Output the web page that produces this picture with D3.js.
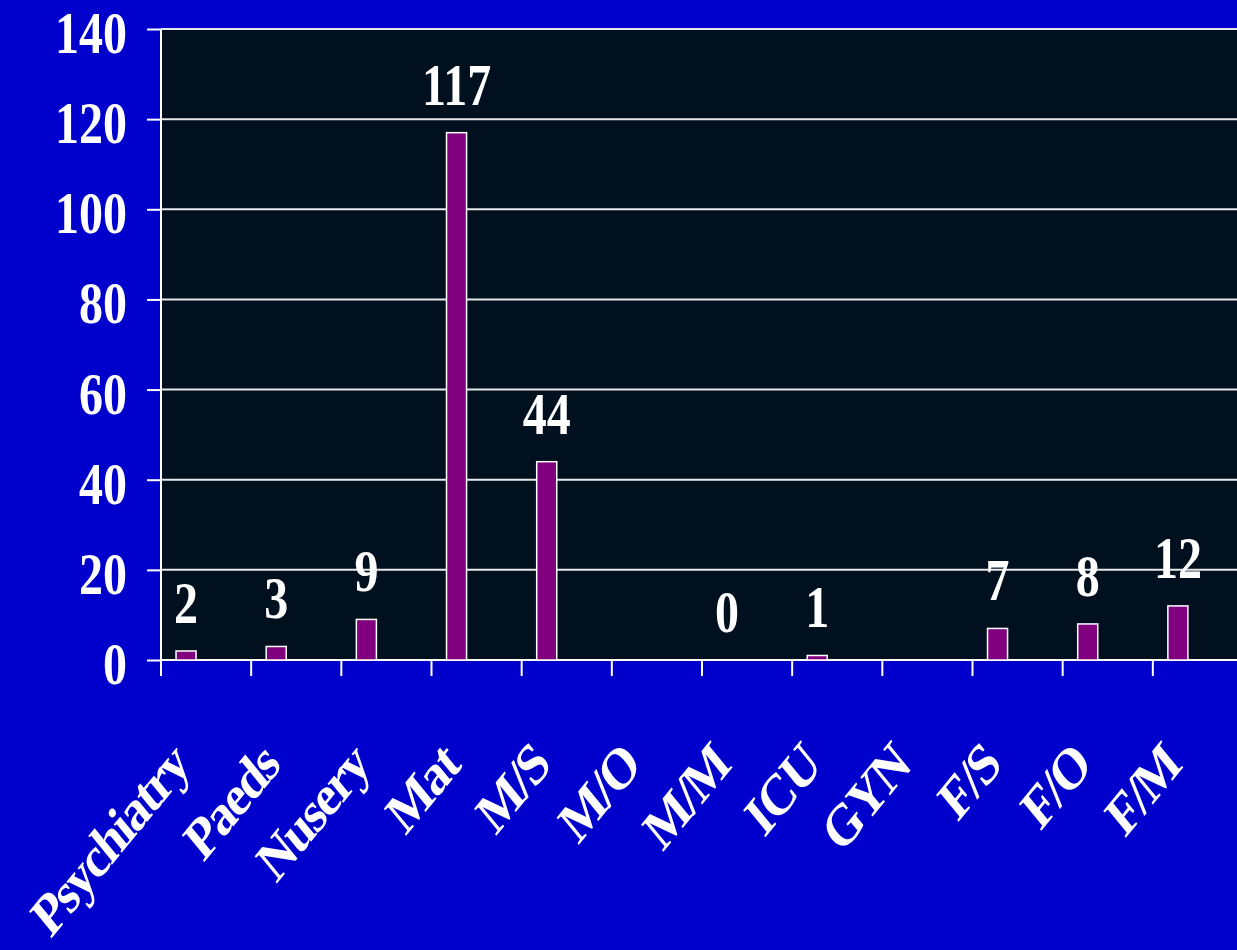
<!DOCTYPE html>
<html>
<head>
<meta charset="utf-8">
<script src="https://cdn.jsdelivr.net/npm/d3@7"></script>
<style>
  html, body { margin: 0; padding: 0; background: #0000CC; }
  svg { display: block; }
  text { font-family: "Liberation Serif", "Times New Roman", serif; font-weight: bold; fill: #ffffff; }
</style>
</head>
<body>
<script>
const categories = ["Psychiatry", "Paeds", "Nusery", "Mat", "M/S", "M/O", "M/M", "ICU", "GYN", "F/S", "F/O", "F/M"];
const values = [2, 3, 9, 117, 44, null, 0, 1, null, 7, 8, 12];
const yTicks = [0, 20, 40, 60, 80, 100, 120, 140];

const W = 1237, H = 950;
const plotL = 161, plotR = 1243, plotT = 29, plotB = 660;
const stretch = 1.22;

const svg = d3.select("body").append("svg").attr("width", W).attr("height", H);
svg.append("rect").attr("width", W).attr("height", H).attr("fill", "#0000CC");

const x = d3.scaleBand().domain(categories).range([plotL, plotR]).paddingInner(0).paddingOuter(0);
const y = d3.scaleLinear().domain([0, 140]).range([plotB, plotT]);

// plot area
svg.append("rect").attr("x", plotL).attr("y", plotT).attr("width", plotR - plotL).attr("height", plotB - plotT).attr("fill", "#00101F");

// gridlines
svg.append("g").selectAll("line").data(yTicks.filter(d => d > 0)).join("line")
  .attr("x1", plotL).attr("x2", plotR)
  .attr("y1", d => y(d)).attr("y2", d => y(d))
  .attr("stroke", "#E8E8E8").attr("stroke-width", 2);

// y axis
const yAxis = d3.axisLeft(y).tickValues(yTicks).tickSize(14).tickFormat("");
const gy = svg.append("g").attr("transform", `translate(${plotL},0)`).call(yAxis);
gy.select(".domain").remove();
gy.selectAll(".tick line").attr("stroke", "#ffffff").attr("stroke-width", 2);
svg.append("line").attr("x1", plotL).attr("x2", plotL).attr("y1", plotT).attr("y2", plotB + 16)
  .attr("stroke", "#ffffff").attr("stroke-width", 2);

svg.append("g").selectAll("text").data(yTicks).join("text")
  .attr("transform", d => `translate(127,${y(d) + 24}) scale(1,${stretch})`)
  .attr("text-anchor", "end")
  .attr("font-size", 48)
  .text(d => d);

// x axis baseline & ticks
svg.append("line").attr("x1", plotL).attr("x2", plotR).attr("y1", plotB).attr("y2", plotB)
  .attr("stroke", "#ffffff").attr("stroke-width", 2);
svg.append("g").selectAll("line").data(categories.slice(1)).join("line")
  .attr("x1", d => x(d)).attr("x2", d => x(d))
  .attr("y1", plotB).attr("y2", plotB + 16)
  .attr("stroke", "#ffffff").attr("stroke-width", 2);

// bars
const bw = x.bandwidth();
const barW = bw / 4.5, barOff = barW * 0.75;
const data = categories.map((c, i) => ({ c, v: values[i] }));
svg.append("g").selectAll("rect").data(data.filter(d => d.v !== null && d.v > 0)).join("rect")
  .attr("x", d => x(d.c) + barOff)
  .attr("y", d => y(d.v))
  .attr("width", barW)
  .attr("height", d => y(0) - y(d.v))
  .attr("fill", "#800080")
  .attr("stroke", "#ffffff").attr("stroke-width", 1.5);

// value labels
svg.append("g").selectAll("text").data(data.filter(d => d.v !== null)).join("text")
  .attr("transform", d => `translate(${x(d.c) + barOff + barW / 2},${y(d.v) - 28}) scale(1,${stretch})`)
  .attr("text-anchor", "middle")
  .attr("font-size", 48)
  .text(d => d.v);

// category labels
svg.append("g").selectAll("text").data(categories).join("text")
  .attr("transform", d => `translate(${x(d) + bw / 2 - 15},768) scale(1,${stretch}) rotate(-45)`)
  .attr("text-anchor", "end")
  .attr("font-size", 48)
  .attr("letter-spacing", -2)
  .text(d => d);
</script>
</body>
</html>
